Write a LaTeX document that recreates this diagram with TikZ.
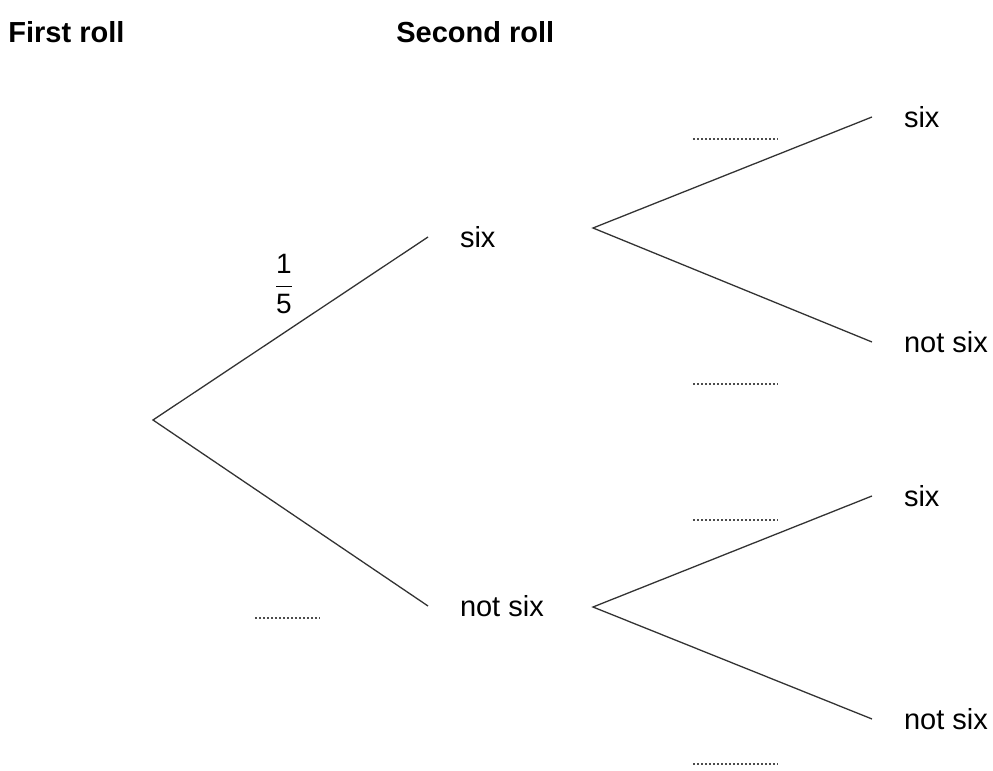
\documentclass[tikz,border=0pt]{standalone}
\usepackage{fontspec}
\usepackage{amsmath}
\setmainfont{Liberation Sans}
\begin{document}
\begin{tikzpicture}[x=0.5pt,y=-0.5pt,
  branch/.style={line width=0.65pt,black!80},
  outcome/.style={anchor=west,inner sep=0pt,outer xsep=16pt,
    font=\fontsize{14.5}{16}\selectfont},
  heading/.style={anchor=base west,inner sep=0pt,
    font=\fontsize{14.5}{16}\selectfont\bfseries},
  blank/.style={line width=1.1pt,black!70,dash pattern=on 1pt off 1pt}]

\useasboundingbox (0,0) rectangle (993,771);

% Headings
\node[heading] (first) at (8,42) {First roll};
\node[heading] (second) at (396,42) {Second roll};

% First roll
\coordinate (root) at (153,420);
\node[outcome] (six) at (428,237) {six};
\node[outcome] (notsix) at (428,606) {not six};

\draw[branch]
(six.west)
-- (root)
-- (notsix.west);

% Second roll, after six
\coordinate (forka) at (593,228);
\node[outcome] (sixsix) at (872,117) {six};
\node[outcome] (sixnot) at (872,342) {not six};

\draw[branch]
(sixsix.west)
-- (forka)
-- (sixnot.west);

% Second roll, after not six
\coordinate (forkb) at (593,607);
\node[outcome] (notsixsix) at (872,496) {six};
\node[outcome] (notsixnot) at (872,719) {not six};

\draw[branch]
(notsixsix.west)
-- (forkb)
-- (notsixnot.west);

% Probabilities
\node[inner sep=0pt,font=\fontsize{14}{16}\selectfont]
(psix) at (284,284)
{$\genfrac{}{}{0.6pt}{0}{\hbox{1}}{\hbox{5}}$};

\coordinate (pnot) at (255,618);
\draw[blank] (pnot) -- ++(65,0);

\coordinate (pa) at (693,139);
\draw[blank] (pa) -- ++(85,0);

\coordinate (pb) at (693,384);
\draw[blank] (pb) -- ++(85,0);

\coordinate (pc) at (693,520);
\draw[blank] (pc) -- ++(85,0);

\coordinate (pd) at (693,764);
\draw[blank] (pd) -- ++(85,0);

\end{tikzpicture}
\end{document}
